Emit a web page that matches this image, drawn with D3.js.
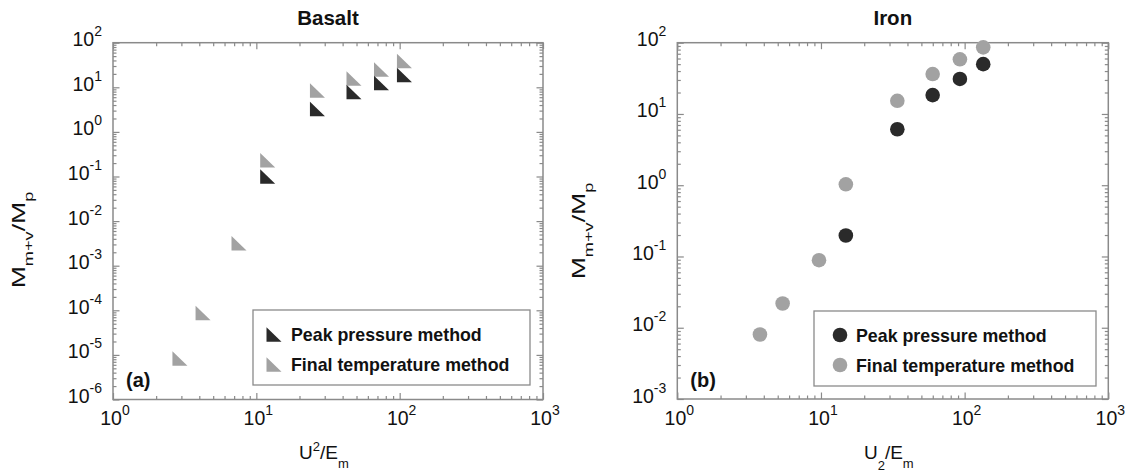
<!DOCTYPE html>
<html>
<head>
<meta charset="utf-8">
<script src="https://cdn.jsdelivr.net/npm/d3@7"></script>
<style>
  body { margin: 0; background: #fff; }
  svg { display: block; font-family: "Liberation Sans", Arial, sans-serif; }
</style>
</head>
<body>
<svg id="chart" width="1125" height="472"></svg>
<script>
// values
var basaltX = [2.93, 4.25, 7.57, 12.0, 26.7, 48, 74.7, 108];
var basaltPeak = [null, null, null, 0.1, 3.26, 7.85, 12.5, 18.9];
var basaltFinal = [8.3e-6, 8.7e-5, 3.2e-3, 0.23, 8.5, 15.7, 25, 38.9];

var ironX = [3.76, 5.41, 9.69, 14.9, 34, 59.9, 92.7, 134.7];
var ironPeak = [null, null, null, 0.197, 6.1, 18.4, 31, 50];
var ironFinal = [0.00803, 0.0219, 0.0887, 1.03, 15.3, 36.3, 58.5, 86];

var seriesNames = ['Peak pressure method', 'Final temperature method'];
var xDomain = [1, 1000];

var DARK = '#2a2a2a',
    GRAY = '#a2a2a2',
    AXIS = '#8a8a8a',
    INK = '#111';

var svg = d3.select('#chart');

var panels = [
  {
    title: 'Basalt', tag: '(a)', marker: 'triangle',
    xs: basaltX, peak: basaltPeak, final: basaltFinal,
    yDomain: [1e-6, 1e2],
    left: 113, right: 543, top: 42.7, bottom: 399.5,
    xLabel: ['U', '2', 'sup', '/E', 'm'],
    yLabelPos: [25, 240],
    legend: {x: 253, y: 310, w: 277, h: 75}
  },
  {
    title: 'Iron', tag: '(b)', marker: 'circle',
    xs: ironX, peak: ironPeak, final: ironFinal,
    yDomain: [1e-3, 1e2],
    left: 677.3, right: 1108.3, top: 42.7, bottom: 399,
    xLabel: ['U', '2', 'sub', '/E', 'm'],
    yLabelPos: [585, 231],
    legend: {x: 814, y: 311, w: 282, h: 75}
  }
];

panels.forEach(drawPanel);

function drawPanel(p) {
  var x = d3.scaleLog().domain(xDomain).range([p.left, p.right]),
      y = d3.scaleLog().domain(p.yDomain).range([p.bottom, p.top]),
      g = svg.append('g');

  drawAxes(g, x, y, p);

  var points = p.xs.map(function(v, i) {
    return {x: v, peak: p.peak[i], final: p.final[i]};
  });

  var finals = points.filter(function(d) { return d.final != null; }),
      peaks = points.filter(function(d) { return d.peak != null; });

  drawMarkers(g, finals, function(d) { return x(d.x); }, function(d) { return y(d.final); }, GRAY, p.marker);
  drawMarkers(g, peaks, function(d) { return x(d.x); }, function(d) { return y(d.peak); }, DARK, p.marker);

  // title
  g.append('text')
    .attr('x', (p.left + p.right) / 2)
    .attr('y', 25)
    .attr('text-anchor', 'middle')
    .attr('font-size', 20.5)
    .attr('font-weight', 'bold')
    .attr('fill', INK)
    .text(p.title);

  // panel tag
  g.append('text')
    .attr('x', p.left + 13)
    .attr('y', p.bottom - 12.5)
    .attr('font-size', 20)
    .attr('font-weight', 'bold')
    .attr('fill', INK)
    .text(p.tag);

  // x label
  var xl = g.append('text')
    .attr('x', (p.left + p.right) / 2 - 4)
    .attr('y', 459)
    .attr('text-anchor', 'middle')
    .attr('font-size', 19)
    .attr('fill', INK);
  xl.append('tspan').text(p.xLabel[0]);
  if (p.xLabel[2] === 'sup') {
    xl.append('tspan').attr('font-size', 13).attr('dy', -8).text(p.xLabel[1]);
    xl.append('tspan').attr('dy', 8).text(p.xLabel[3]);
  } else {
    xl.append('tspan').attr('font-size', 13).attr('dy', 11).text(p.xLabel[1]);
    xl.append('tspan').attr('dy', -11).text(p.xLabel[3]);
  }
  xl.append('tspan').attr('font-size', 13).attr('dy', 9).text(p.xLabel[4]);

  // y label (stretched along its reading direction like the source)
  var yl = g.append('text')
    .attr('transform', 'translate(' + p.yLabelPos[0] + ',' + p.yLabelPos[1] + ') rotate(-90) scale(1.4,1)')
    .attr('text-anchor', 'middle')
    .attr('font-size', 19)
    .attr('fill', INK);
  yl.append('tspan').text('M');
  yl.append('tspan').attr('font-size', 13).attr('dy', 8).text('m+v');
  yl.append('tspan').attr('dy', -8).text('/M');
  yl.append('tspan').attr('font-size', 13).attr('dy', 8).text('p');

  drawLegend(g, p);
}

function drawAxes(g, x, y, p) {
  var xMajor = decades(xDomain),
      yMajor = decades(p.yDomain),
      xMinor = x.ticks(20).filter(function(v) { return !isMajor(v); }),
      yMinor = y.ticks(20).filter(function(v) { return !isMajor(v); });

  var sides = [
    {axis: d3.axisBottom, scale: x, tr: [0, p.bottom]},
    {axis: d3.axisTop, scale: x, tr: [0, p.top]},
    {axis: d3.axisLeft, scale: y, tr: [p.left, 0]},
    {axis: d3.axisRight, scale: y, tr: [p.right, 0]}
  ];

  sides.forEach(function(s) {
    var isX = s.scale === x;
    [[isX ? xMinor : yMinor, 3.5], [isX ? xMajor : yMajor, 6.5]].forEach(function(set) {
      var a = g.append('g')
        .attr('transform', 'translate(' + s.tr[0] + ',' + s.tr[1] + ')')
        .call(s.axis(s.scale).tickValues(set[0]).tickSize(-set[1]).tickFormat(''));
      a.select('.domain').remove();
      a.selectAll('.tick line').attr('stroke', AXIS).attr('stroke-width', 1.2);
    });
  });

  g.append('rect')
    .attr('x', p.left)
    .attr('y', p.top)
    .attr('width', p.right - p.left)
    .attr('height', p.bottom - p.top)
    .attr('fill', 'none')
    .attr('stroke', AXIS)
    .attr('stroke-width', 1.5);

  // x tick labels
  xMajor.forEach(function(v) {
    powerLabel(g, Math.round(Math.log10(v)))
      .attr('x', x(v) + 2)
      .attr('y', 425)
      .attr('text-anchor', 'middle');
  });

  // y tick labels
  yMajor.forEach(function(v) {
    powerLabel(g, Math.round(Math.log10(v)))
      .attr('x', p.left - 11)
      .attr('y', y(v) + 3.5)
      .attr('text-anchor', 'end');
  });
}

function powerLabel(g, e) {
  var t = g.append('text')
    .attr('font-size', 19.5)
    .attr('fill', INK);
  t.append('tspan').text('10');
  t.append('tspan')
    .attr('font-size', 14)
    .attr('dy', -10)
    .text(String(e));
  return t;
}

function decades(domain) {
  var lo = Math.round(Math.log10(domain[0])),
      hi = Math.round(Math.log10(domain[1]));
  return d3.range(lo, hi + 1).map(function(e) { return Math.pow(10, e); });
}

function isMajor(v) {
  var e = Math.log10(v);
  return Math.abs(e - Math.round(e)) < 1e-9;
}

function markerPath(cx, cy) {
  var w = 15, h = 14.5;
  return 'M' + (cx - w / 2) + ',' + (cy - h / 2) +
         'L' + (cx - w / 2) + ',' + (cy + h / 2) +
         'L' + (cx + w / 2) + ',' + (cy + h / 2) + 'Z';
}

function drawMarkers(g, data, fx, fy, color, kind) {
  if (kind === 'triangle') {
    g.append('g').selectAll('path')
      .data(data)
      .enter()
      .append('path')
      .attr('d', function(d) { return markerPath(fx(d), fy(d)); })
      .attr('fill', color);
  } else {
    g.append('g').selectAll('circle')
      .data(data)
      .enter()
      .append('circle')
      .attr('cx', fx)
      .attr('cy', fy)
      .attr('r', 7.3)
      .attr('fill', color);
  }
}

function drawLegend(g, p) {
  var L = p.legend;
  g.append('rect')
    .attr('x', L.x)
    .attr('y', L.y)
    .attr('width', L.w)
    .attr('height', L.h)
    .attr('fill', '#fff')
    .attr('stroke', AXIS)
    .attr('stroke-width', 1.3);

  var rows = g.selectAll('g.legend-row')
    .data(seriesNames)
    .enter()
    .append('g')
    .attr('class', 'legend-row')
    .attr('transform', function(d, i) { return 'translate(' + L.x + ',' + (L.y + 24 + i * 30) + ')'; });

  rows.each(function(d, i) {
    var row = d3.select(this),
        color = i === 0 ? DARK : GRAY;
    if (p.marker === 'triangle') {
      row.append('path').attr('d', markerPath(21, 0.5)).attr('fill', color);
    } else {
      row.append('circle').attr('cx', 26).attr('cy', 0).attr('r', 7.3).attr('fill', color);
    }
  });

  rows.append('text')
    .attr('x', p.marker === 'triangle' ? 38 : 42)
    .attr('y', 6.5)
    .attr('font-size', 17.8)
    .attr('font-weight', 'bold')
    .attr('fill', INK)
    .text(function(d) { return d; });
}
</script>
</body>
</html>
